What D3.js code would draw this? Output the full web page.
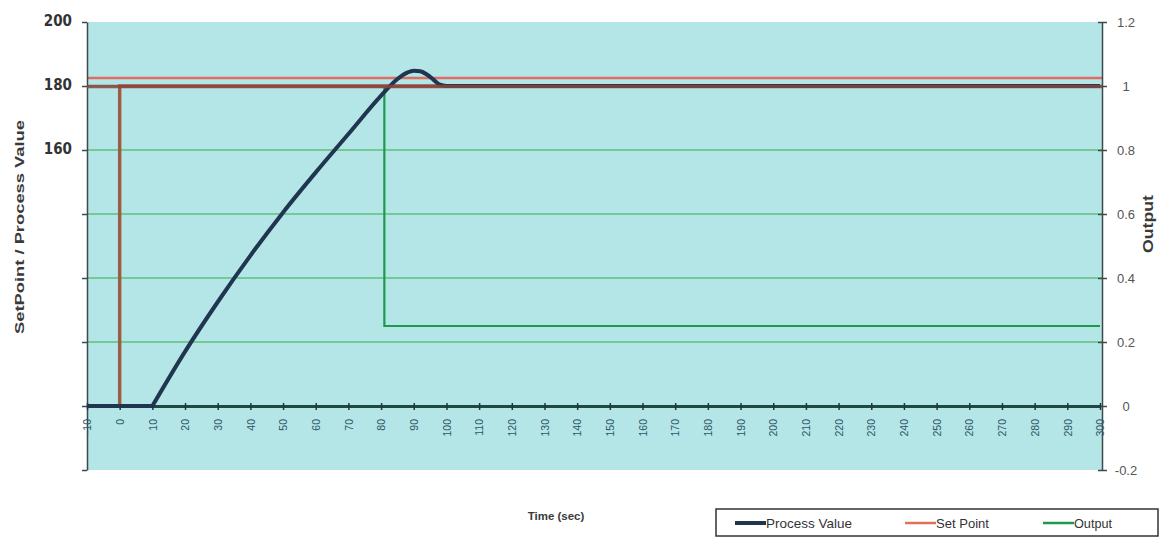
<!DOCTYPE html>
<html><head><meta charset="utf-8">
<script src="https://cdn.jsdelivr.net/npm/d3@7"></script>
<style>
html,body{margin:0;padding:0;background:#fff;}
svg{display:block;}
</style></head>
<body>
<svg id="chart" width="1163" height="544"></svg>
<script>
// ---- data ----
const xTicks = [-10,0,10,20,30,40,50,60,70,80,90,100,110,120,130,140,150,160,170,180,190,200,210,220,230,240,250,260,270,280,290,300];
const leftTickValues = [60,80,100,120,140,160,180,200];
const leftTickLabels = ["","","","","","160","180","200"];
const rightTickValues = [-0.2,0,0.2,0.4,0.6,0.8,1,1.2];
const rightTickLabels = ["-0.2","0","0.2","0.4","0.6","0.8","1","1.2"];

const pvTime  = [-10, 0, 10, 20, 30, 40, 50, 60, 70, 80, 85, 88, 90, 92, 94, 96, 98, 100, 120, 150, 200, 250, 300];
const pvValue = [80, 80, 80, 97, 112.5, 127, 140.5, 153, 165, 177, 182.2, 184.2, 184.8, 184.6, 183.6, 182, 180.4, 180, 180, 180, 180, 180, 180];

const spTime  = [-10, 0, 0, 300];
const spValue = [80, 80, 180, 180];

const outTime  = [-10, 0, 0, 81, 81, 300];
const outValue = [0, 0, 1, 1, 0.25, 0.25];

const refLines = [180, 182.5];   // horizontal lines across the whole plot (left axis)

const legendItems = ["Process Value", "Set Point", "Output"];

// ---- layout ----
const svg = d3.select("#chart");
const X0 = 87, X1 = 1100, Y0 = 22, Y1 = 470;
const x = d3.scaleLinear().domain([-10,300]).range([X0, X1]);
const yL = d3.scaleLinear().domain([60,200]).range([Y1, Y0]);
const yR = d3.scaleLinear().domain([-0.2,1.2]).range([Y1, Y0]);

const colPV = "#1f3550", colSP = "#e0705c", colOut = "#1e9a4c";
const FONT = "'Liberation Sans', Arial, sans-serif";

// plot background
svg.append("rect").attr("x", X0).attr("y", Y0).attr("width", 1102 - X0).attr("height", Y1 - Y0)
  .attr("fill", "#b4e5e7");

// gridlines (green)
svg.append("g").selectAll("line").data(rightTickValues.filter(v => v > -0.2 && v < 1.2)).join("line")
  .attr("x1", X0).attr("x2", 1102)
  .attr("y1", d => yR(d)).attr("y2", d => yR(d))
  .attr("stroke", "#5fbf7c").attr("stroke-width", 1.5);

// upper reference line
svg.append("line").attr("x1", X0).attr("x2", 1102)
  .attr("y1", yL(refLines[1])).attr("y2", yL(refLines[1]))
  .attr("stroke", "#dc6e64").attr("stroke-width", 2.6);

// left axis
const leftAxis = d3.axisLeft(yL).tickValues(leftTickValues)
  .tickFormat((d,i) => leftTickLabels[i]).tickSize(5).tickSizeOuter(0);
const gL = svg.append("g").attr("transform", `translate(${X0},0)`).call(leftAxis);
gL.select(".domain").attr("stroke", "#3d4a4a").attr("stroke-width", 1.5);
gL.selectAll(".tick line").attr("stroke", "#3d4a4a").attr("stroke-width", 1.5);
gL.selectAll(".tick text").attr("font-family", "'DejaVu Sans Condensed', 'DejaVu Sans', sans-serif")
  .attr("font-weight", "bold").attr("font-size", 15).attr("fill", "#333").attr("x", -15).attr("dy", "0.2em");

// right axis
const rightAxis = d3.axisRight(yR).tickValues(rightTickValues)
  .tickFormat((d,i) => rightTickLabels[i]).tickSize(5).tickSizeOuter(0);
const gR = svg.append("g").attr("transform", `translate(1102,0)`).call(rightAxis);
gR.select(".domain").attr("stroke", "#3d4a4a").attr("stroke-width", 1.5);
gR.selectAll(".tick line").attr("stroke", "#3d4a4a").attr("stroke-width", 1.5).attr("x1", -4);
gR.selectAll(".tick text").attr("font-family", FONT)
  .attr("font-size", 13).attr("fill", "#555").attr("x", 24).attr("text-anchor", "middle");

// series: output (green)
const lineR = d3.line().x(d => x(d[0])).y(d => yR(d[1]));
svg.append("path").datum(outTime.map((t,i) => [t, outValue[i]]))
  .attr("d", lineR).attr("fill", "none").attr("stroke", colOut).attr("stroke-width", 2.2);

// x axis at 0 of right axis
const xAxis = d3.axisBottom(x).tickValues(xTicks).tickFormat(d3.format("d")).tickSize(4).tickSizeOuter(0);
const gX = svg.append("g").attr("transform", `translate(0,${yR(0)})`).call(xAxis);
gX.select(".domain").attr("stroke", "#1d4a42").attr("stroke-width", 3);
gX.selectAll(".tick line").attr("stroke", "#234").attr("stroke-width", 1.5).attr("y1", -3);
gX.selectAll(".tick text")
  .attr("font-family", FONT).attr("font-size", 10.5).attr("fill", "#2c5566")
  .attr("text-anchor", "end").attr("y", 0).attr("dy", "0.35em")
  .attr("transform", "translate(0,13) rotate(-90)");

// set point (step)
const lineLin = d3.line().x(d => x(d[0])).y(d => yL(d[1]));
svg.append("path").datum(spTime.map((t,i) => [t, spValue[i]]))
  .attr("d", lineLin).attr("fill", "none").attr("stroke", "#a4553d").attr("stroke-width", 3.5)
  .attr("stroke-opacity", 0.9);

// process value: flat part straight, rising part smooth
const pvPts = pvTime.map((t,i) => [t, pvValue[i]]);
const kStart = pvTime.indexOf(10);
const pvCurve = d3.line().x(d => x(d[0])).y(d => yL(d[1])).curve(d3.curveMonotoneX);
svg.append("path").datum(pvPts.slice(0, kStart + 1))
  .attr("d", lineLin).attr("fill", "none").attr("stroke", colPV).attr("stroke-width", 4);
svg.append("path").datum(pvPts.slice(kStart))
  .attr("d", pvCurve).attr("fill", "none").attr("stroke", colPV).attr("stroke-width", 4)
  .attr("stroke-linejoin", "round");

// lower reference line (180) full width
svg.append("line").attr("x1", X0).attr("x2", 1102)
  .attr("y1", yL(refLines[0]) + 0.5).attr("y2", yL(refLines[0]) + 0.5)
  .attr("stroke", "#8a4440").attr("stroke-width", 3.6).attr("stroke-opacity", 0.85);

// axis titles
svg.append("text").attr("transform", "translate(24,227) rotate(-90)")
  .attr("text-anchor", "middle").attr("font-family", FONT)
  .attr("font-weight", "bold").attr("font-size", 13).attr("fill", "#3a3a3a")
  .attr("textLength", 214).attr("lengthAdjust", "spacingAndGlyphs")
  .text("SetPoint / Process Value");
svg.append("text").attr("transform", "translate(1153,224) rotate(-90)")
  .attr("text-anchor", "middle").attr("font-family", FONT)
  .attr("font-weight", "bold").attr("font-size", 14).attr("fill", "#3a3a3a")
  .attr("textLength", 58).attr("lengthAdjust", "spacingAndGlyphs")
  .text("Output");
svg.append("text").attr("x", 556).attr("y", 520)
  .attr("text-anchor", "middle").attr("font-family", FONT)
  .attr("font-weight", "bold").attr("font-size", 11.5).attr("fill", "#3a3a3a")
  .text("Time (sec)");

// legend
const lg = svg.append("g");
lg.append("rect").attr("x", 716).attr("y", 509).attr("width", 442).attr("height", 27)
  .attr("fill", "#fff").attr("stroke", "#333").attr("stroke-width", 1.5);
const legCols = [colPV, colSP, colOut];
const legX = [735, 905, 1043];
const legW = [4, 2.5, 2.5];
const legTextW = [86, 53, 38];
legendItems.forEach((name, i) => {
  lg.append("line").attr("x1", legX[i]).attr("x2", legX[i] + 31).attr("y1", 523).attr("y2", 523)
    .attr("stroke", legCols[i]).attr("stroke-width", legW[i]);
  lg.append("text").attr("x", legX[i] + 31).attr("y", 528)
    .attr("font-family", FONT).attr("font-size", 13.5)
    .attr("textLength", legTextW[i]).attr("lengthAdjust", "spacingAndGlyphs")
    .attr("fill", "#333").text(name);
});
</script>
</body></html>
